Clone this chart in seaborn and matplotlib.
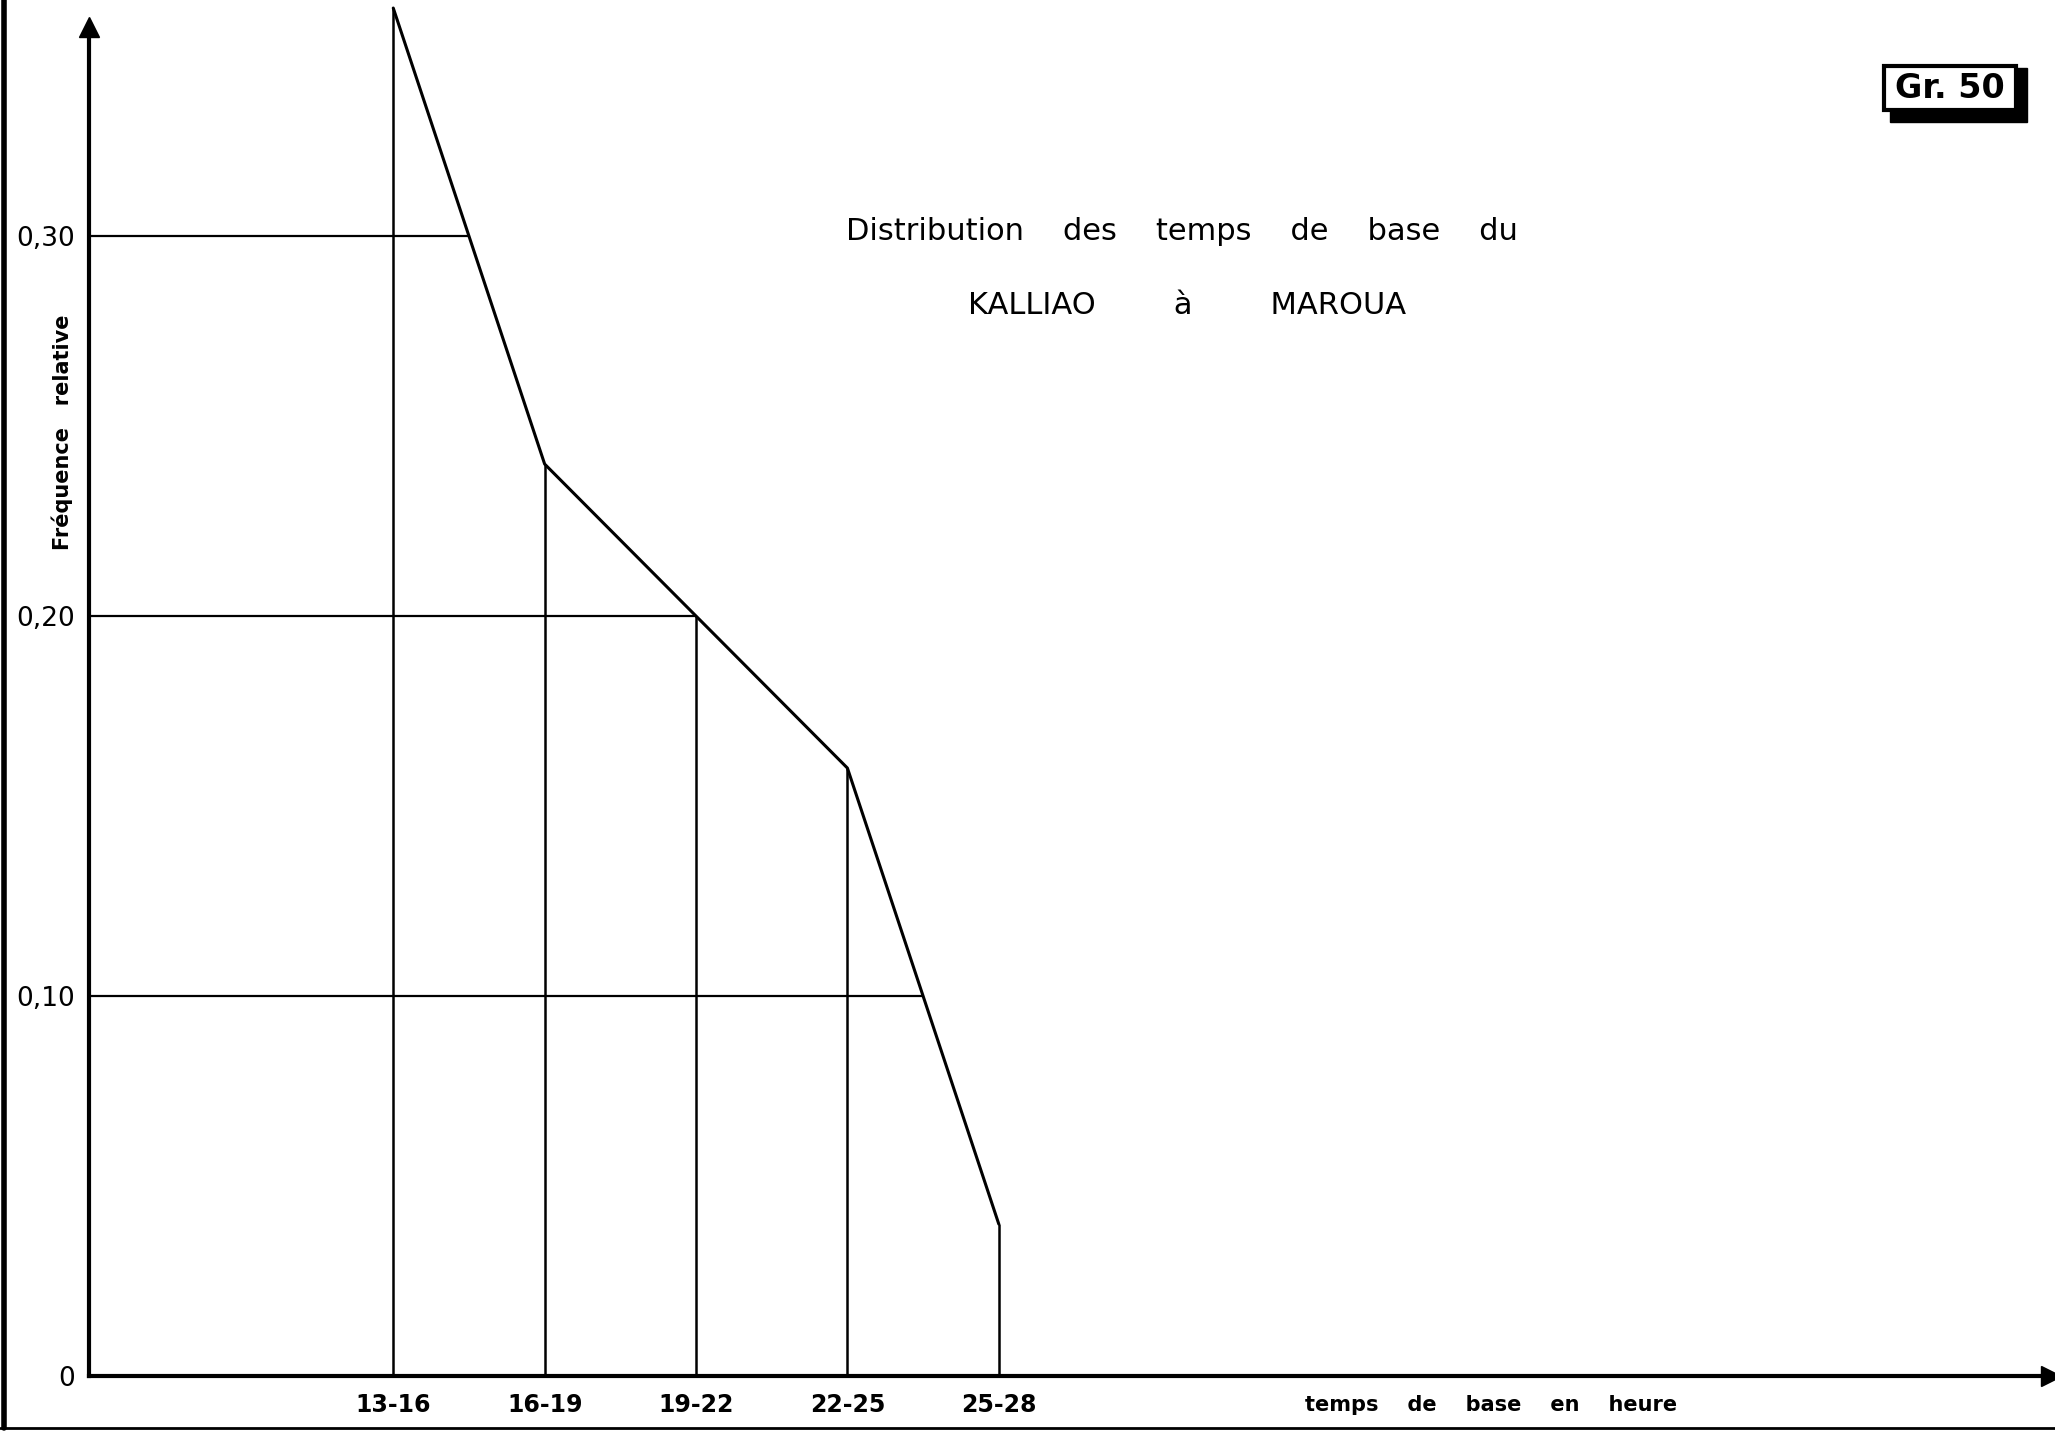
import numpy as np
import matplotlib
matplotlib.use("Agg")
import matplotlib.pyplot as plt
import seaborn as sns
from matplotlib.patches import FancyBboxPatch

# Data
classes = ["13-16", "16-19", "19-22", "22-25", "25-28"]
freq = [0.36, 0.24, 0.20, 0.16, 0.04]
grid_levels = [0.10, 0.20, 0.30]
ytick_labels = ["0", "0,10", "0,20", "0,30"]

sns.set_theme(style="white")
plt.rcParams["font.family"] = ["DejaVu Sans"]
plt.rcParams["text.color"] = "black"

fig = plt.figure(figsize=(20.55, 14.31), dpi=100)
ax = fig.add_axes([0.0433, 0.0384, 0.9547, 0.9427])

pos = np.arange(len(classes))

# polygon of frequencies
sns.lineplot(x=pos, y=freq, ax=ax, color="black", linewidth=2.2, clip_on=False)

# vertical drop lines
ax.vlines(pos, 0, freq, color="black", linewidth=1.8, clip_on=False)

# horizontal reference lines up to the polygon
for lvl in grid_levels:
    xe = np.interp(lvl, freq[::-1], pos[::-1])
    ax.hlines(lvl, -2.01, xe, color="black", linewidth=1.6)

ax.set_xlim(-2.01, 10.95)
ax.set_ylim(0, 0.355)

for s in ["top", "right"]:
    ax.spines[s].set_visible(False)
for s in ["left", "bottom"]:
    ax.spines[s].set_color("black")
    ax.spines[s].set_linewidth(3)

# arrow heads
ax.plot(0, 1, marker="^", color="black", markersize=14, transform=ax.transAxes, clip_on=False)
ax.plot(1, 0, marker=">", color="black", markersize=14, transform=ax.transAxes, clip_on=False)

ax.set_yticks([0] + grid_levels)
ax.set_yticklabels(ytick_labels, fontsize=19, fontweight="medium")
ax.set_xticks(pos)
ax.set_xticklabels(classes, fontsize=17, fontweight="bold")
ax.tick_params(axis="both", length=0, colors="black")
ax.tick_params(axis="y", pad=10)
ax.tick_params(axis="x", pad=12)
ax.set_xlabel("")
ax.set_ylabel("")

fig.text(62 / 2055, 1 - 432 / 1431, "Fréquence   relative", rotation=90,
         ha="center", va="center", fontsize=15, fontweight="bold")
fig.text(1491 / 2055, 1 - 1405 / 1431, "temps    de    base    en    heure",
         ha="center", va="center", fontsize=15, fontweight="bold")

fig.text(1182 / 2055, 1 - 231 / 1431, "Distribution    des    temps    de    base    du",
         ha="center", va="center", fontsize=22)
fig.text(1187 / 2055, 1 - 305 / 1431, "KALLIAO        à        MAROUA",
         ha="center", va="center", fontsize=22)

# "Gr.50" box with shadow
shadow = FancyBboxPatch((1890 / 2055, 1 - 122 / 1431), 137 / 2055, 54 / 1431,
                        boxstyle="square,pad=0", transform=fig.transFigure,
                        facecolor="black", edgecolor="black")
box = FancyBboxPatch((1884 / 2055, 1 - 110 / 1431), 132 / 2055, 44 / 1431,
                     boxstyle="square,pad=0", transform=fig.transFigure,
                     facecolor="white", edgecolor="black", linewidth=3)
fig.patches.extend([shadow, box])
fig.text(1950 / 2055, 1 - 88 / 1431, "Gr. 50", ha="center", va="center",
         fontsize=24, fontweight="bold")

# scan frame at left and bottom edge
fig.add_artist(plt.Line2D([4 / 2055, 4 / 2055], [0.002, 1], transform=fig.transFigure,
                          color="black", linewidth=4))
fig.add_artist(plt.Line2D([0, 1], [3 / 1431, 3 / 1431], transform=fig.transFigure,
                          color="black", linewidth=2))

fig.savefig("out.png", dpi=100)
